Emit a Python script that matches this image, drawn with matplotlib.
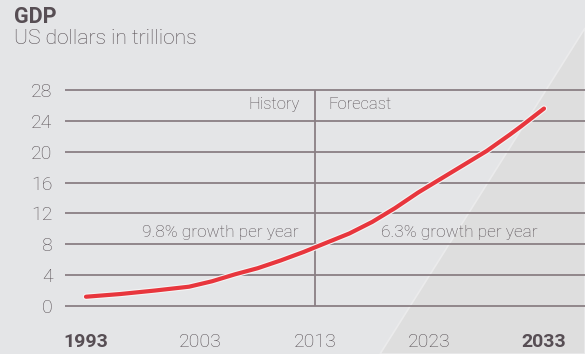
import matplotlib
matplotlib.use("Agg")
import matplotlib.pyplot as plt
import matplotlib.patheffects as pe
from matplotlib.patches import Polygon

years = [1993, 1996, 1999, 2002, 2004, 2006, 2008, 2010, 2012, 2013, 2014, 2016, 2018,
         2019, 2020, 2022, 2024, 2026, 2028, 2030, 2031, 2033]
gdp = [1.2, 1.55, 2.0, 2.5, 3.2, 4.1, 4.9, 5.9, 7.0, 7.6, 8.2, 9.4, 10.9,
       11.8, 12.7, 14.7, 16.5, 18.3, 20.1, 22.2, 23.3, 25.6]
y_ticks = [0, 4, 8, 12, 16, 20, 24, 28]
x_ticks = [1993, 2003, 2013, 2023, 2033]
bold_years = [1993, 2033]
split_year = 2013
title = "GDP"
subtitle = "US dollars in trillions"
hist_label = "History"
fc_label = "Forecast"
hist_growth = "9.8% growth per year"
fc_growth = "6.3% growth per year"

plt.rcParams['font.family'] = ['Roboto', 'DejaVu Sans']
text_col = '#564e53'
grid_col = '#8a7f84'
bg = '#e4e5e7'

fig = plt.figure(figsize=(5.85, 3.54), dpi=100, facecolor=bg)
W, H = 585, 354
tri = Polygon([(1.0, 1 - 28 / H), (1.0, 0.0), (380 / W, 0.0)],
              closed=True, transform=fig.transFigure, facecolor='#dedede',
              edgecolor='#ebebec', linewidth=1.2, zorder=-1)
fig.patches.append(tri)

ax = fig.add_axes([65 / W, 1 - 313.7 / H, 520 / W, (313.7 - 82.3) / H])
ax.set_facecolor('none')
ax.set_xlim(1991.17, 2036.58)
ax.set_ylim(-1, 29)
for s in ax.spines.values():
    s.set_visible(False)

ax.set_yticks(y_ticks)
ax.set_yticklabels([str(v) for v in y_ticks], fontsize=14, color=text_col, fontweight='light')
ax.set_xticks(x_ticks)
ax.set_xticklabels([str(v) for v in x_ticks], fontsize=14, color=text_col, fontweight='light')
for lbl, yr in zip(ax.get_xticklabels(), x_ticks):
    if yr in bold_years:
        lbl.set_fontweight('bold')
        lbl.set_color('#574e54')
ax.tick_params(axis='both', length=0)
ax.tick_params(axis='y', pad=9)
ax.tick_params(axis='x', pad=14)
ax.yaxis.grid(True, color=grid_col, linewidth=1.3)
ax.set_axisbelow(True)

ax.vlines(split_year, y_ticks[0], y_ticks[-1], color=grid_col, linewidth=1.3, zorder=1)

ax.plot(years, gdp, color='#e8363d', linewidth=3.0, solid_capstyle='round',
        solid_joinstyle='round', zorder=3,
        path_effects=[pe.Stroke(linewidth=4.6, foreground='#f4f4f4'), pe.Normal()])

ax.annotate(hist_label, (split_year, 26.1), xytext=(-11, 0), textcoords='offset points',
            ha='right', va='center', fontsize=12, color=text_col, fontweight='light')
ax.annotate(fc_label, (split_year, 26.1), xytext=(10, 0), textcoords='offset points',
            ha='left', va='center', fontsize=12, color=text_col, fontweight='light')
ax.annotate(hist_growth, (split_year, 9.5), xytext=(-12, 0), textcoords='offset points',
            ha='right', va='center', fontsize=12.4, color=text_col, fontweight='light')
ax.text(2025.6, 9.5, fc_growth, ha='center', va='center', fontsize=12.4,
        color=text_col, fontweight='light')

fig.text(14 / W, 1 - 17 / H, title, fontsize=15.5, fontweight='bold', color='#574e54',
         ha='left', va='center')
fig.text(14 / W, 1 - 39 / H, subtitle, fontsize=15.2, fontweight='light', color=text_col,
         ha='left', va='center')

fig.savefig('out.png', dpi=100, facecolor=bg)
